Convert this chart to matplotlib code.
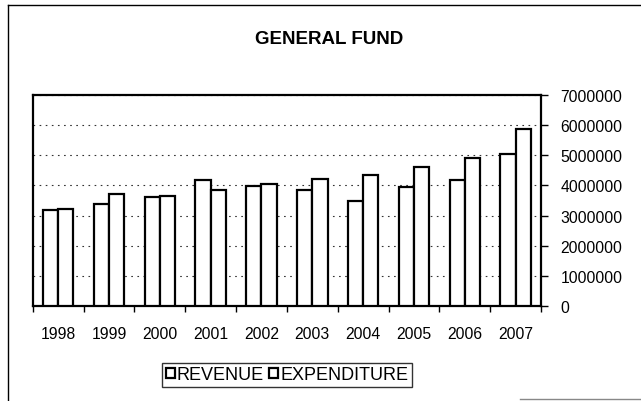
import matplotlib
matplotlib.use("Agg")
import matplotlib.pyplot as plt
from matplotlib.patches import Patch
from matplotlib.lines import Line2D
import numpy as np

plt.rcParams['font.family'] = ['Liberation Sans', 'DejaVu Sans']

years = ['1998', '1999', '2000', '2001', '2002', '2003', '2004', '2005', '2006', '2007']
revenue = [3190000, 3390000, 3610000, 4180000, 3980000, 3850000, 3500000, 3950000, 4170000, 5050000]
expenditure = [3210000, 3720000, 3660000, 3860000, 4030000, 4220000, 4330000, 4610000, 4920000, 5860000]
yticks = [0, 1000000, 2000000, 3000000, 4000000, 5000000, 6000000, 7000000]
title = 'GENERAL FUND'
series_names = ['REVENUE', 'EXPENDITURE']

W, H = 641, 402
fig = plt.figure(figsize=(W / 100, H / 100), dpi=100)
fig.patch.set_facecolor('white')

ax = fig.add_axes([32.7 / W, 1 - 307.3 / H, (541 - 32.7) / W, (307.3 - 95.7) / H])

x = np.arange(len(years))
bw = 0.3
ax.bar(x - bw / 2, revenue, width=bw, facecolor='white', edgecolor='black', linewidth=1.6, zorder=3)
ax.bar(x + bw / 2, expenditure, width=bw, facecolor='white', edgecolor='black', linewidth=1.6, zorder=3)

ax.set_xlim(-0.5, len(years) - 0.5)
ax.set_ylim(0, 7000000)

ax.yaxis.tick_right()
ax.set_yticks(yticks)
ax.set_yticklabels([str(v) for v in yticks], fontsize=11.3)
ax.tick_params(axis='y', direction='out', length=5, width=1, pad=9)
ax.yaxis.grid(True, color='#333333', linestyle=(0, (1.5, 4)), linewidth=0.8, zorder=0)

ax.set_xticks(x)
ax.set_xticklabels(years, fontsize=11.3)
ax.tick_params(axis='x', which='major', length=0, pad=14)
ax.set_xticks(np.arange(-0.5, len(years)), minor=True)
ax.tick_params(axis='x', which='minor', direction='out', length=4, width=1)

for s in ax.spines.values():
    s.set_linewidth(1.6)
    s.set_color('black')

ax.set_axisbelow(True)

fig.text(329 / W, 1 - 39 / H, title, ha='center', va='center', fontsize=13.5, fontweight='bold')

handles = [Patch(facecolor='white', edgecolor='black', linewidth=1.6, label=n) for n in series_names]
leg = fig.legend(handles=handles, loc='center', bbox_to_anchor=(287 / W, 1 - 376 / H), ncol=2,
                 fontsize=13, frameon=True, fancybox=False, handlelength=0.5, handleheight=0.5,
                 handletextpad=0.12, columnspacing=0.3, borderpad=0.2, borderaxespad=0)
leg.get_frame().set_edgecolor('black')
leg.get_frame().set_linewidth(1.0)

# outer chart frame
fig.add_artist(Line2D([8 / W, 8 / W], [0, 1 - 5.7 / H], transform=fig.transFigure, color='black', linewidth=1.0))
fig.add_artist(Line2D([8 / W, 1], [1 - 5.7 / H, 1 - 5.7 / H], transform=fig.transFigure, color='black', linewidth=1.0))
fig.add_artist(Line2D([520 / W, 1], [1 - 400 / H, 1 - 400 / H], transform=fig.transFigure, color='#888888', linewidth=1.0))

fig.savefig('out.png', dpi=100)
